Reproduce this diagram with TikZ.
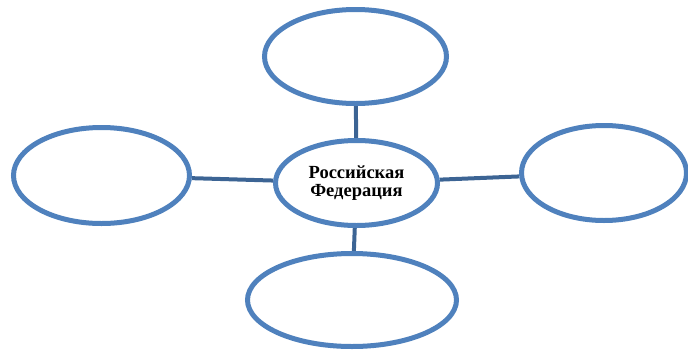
\documentclass[tikz,border=0pt]{standalone}
\usepackage{fontspec}
\setmainfont{Liberation Serif}
\usetikzlibrary{shapes.geometric,backgrounds}
\definecolor{ringblue}{HTML}{4F81BD}
\definecolor{linkblue}{HTML}{3C6494}
\tikzset{
  ring/.style={ellipse, draw=ringblue, line width=5pt, fill=white, inner sep=0pt},
  link/.style={draw=linkblue, line width=4pt},
}
\begin{document}
\begin{tikzpicture}[x=1pt,y=-1pt]
\useasboundingbox (0,0) rectangle (688,354);
\node[ring, minimum width=182pt, minimum height=94pt] (top) at (355.5,56.5) {};
\node[ring, minimum width=162pt, minimum height=85pt, align=center,
      font=\bfseries\fontsize{18.5pt}{18.5pt}\selectfont] (mid) at (356.5,183) {Российская\\Федерация};
\node[ring, minimum width=176pt, minimum height=96pt] (left) at (101.5,175.5) {};
\node[ring, minimum width=165pt, minimum height=95pt] (right) at (604,173) {};
\node[ring, minimum width=209pt, minimum height=93pt] (bottom) at (352,300) {};
\begin{scope}[on background layer]
\draw[link] (top) -- (mid);
\draw[link] (mid) -- (bottom);
\draw[link] (left) -- (mid);
\draw[link] (mid) -- (right);
\end{scope}
\end{tikzpicture}
\end{document}
